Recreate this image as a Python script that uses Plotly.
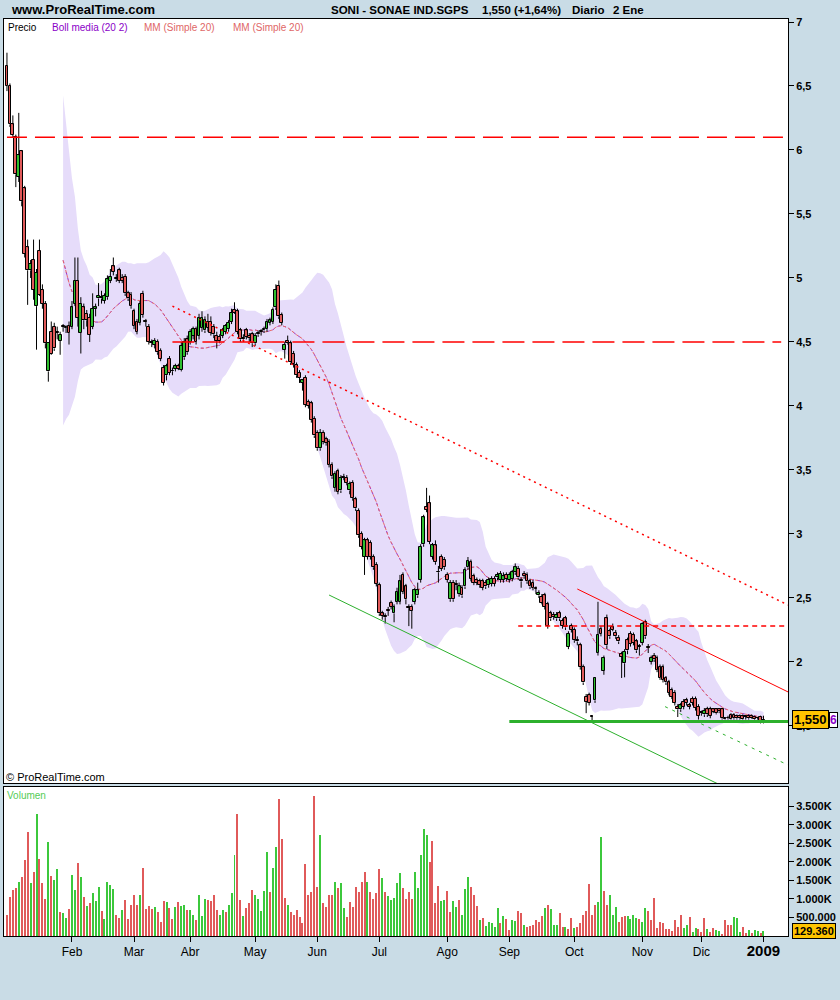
import numpy as np
import pandas as pd
import plotly.graph_objects as go

# ---------------- data ----------------
holidays = ["2008-01-01", "2008-03-21", "2008-03-24", "2008-05-01", "2008-12-25", "2008-12-26",
            "2009-01-01"]
trade_dates = [d for d in pd.bdate_range("2008-01-02", "2009-01-02")
               if d.strftime("%Y-%m-%d") not in holidays]
month_labels = ["Feb", "Mar", "Abr", "May", "Jun", "Jul", "Ago", "Sep", "Oct", "Nov", "Dic",
                "<span style='font-size:15px'><b>2009</b></span>"]

opens = [6.66, 6.50, 6.20, 6.10, 5.79, 5.99, 5.70, 5.24, 5.06, 5.14,
         4.78, 5.21, 4.91, 4.80, 4.27, 4.58, 4.62, 4.57, 4.51, 4.62,
         4.61, 4.625, 4.62, 4.80, 4.98, 4.57, 4.77, 4.72, 4.69, 4.62,
         4.76, 4.84, 4.85, 4.82, 4.85, 4.98, 5.09, 4.99, 5.06, 5.00,
         5.01, 4.88, 4.87, 4.74, 4.66, 4.65, 4.875, 4.66, 4.62, 4.49,
         4.48, 4.50, 4.43, 4.30, 4.24, 4.37, 4.27, 4.29, 4.31, 4.28,
         4.38, 4.52, 4.50, 4.55, 4.60, 4.55, 4.61, 4.59, 4.66, 4.66,
         4.62, 4.55, 4.54, 4.55, 4.58, 4.60, 4.66, 4.75, 4.74, 4.59,
         4.53, 4.59, 4.55, 4.56, 4.49, 4.56, 4.58, 4.59, 4.60, 4.65,
         4.66, 4.77, 4.94, 4.71, 4.44, 4.51, 4.49, 4.41, 4.32, 4.26,
         4.18, 4.22, 4.03, 4.02, 3.90, 3.79, 3.67, 3.79, 3.74, 3.72,
         3.54, 3.36, 3.49, 3.34, 3.44, 3.44, 3.34, 3.40, 3.27, 3.18,
         3.00, 2.82, 2.95, 2.93, 2.82, 2.76, 2.60, 2.38, 2.36, 2.40,
         2.46, 2.38, 2.47, 2.47, 2.68, 2.59, 2.42, 2.43, 2.47, 2.52,
         2.64, 2.92, 3.21, 3.24, 2.82, 2.91, 2.70, 2.82, 2.80, 2.68,
         2.49, 2.62, 2.60, 2.53, 2.58, 2.59, 2.74, 2.78, 2.67, 2.64,
         2.63, 2.63, 2.62, 2.60, 2.61, 2.65, 2.66, 2.64, 2.64, 2.68,
         2.64, 2.65, 2.70, 2.73, 2.64, 2.69, 2.68, 2.63, 2.62, 2.57,
         2.52, 2.51, 2.52, 2.45, 2.38, 2.37, 2.34, 2.38, 2.32, 2.34,
         2.12, 2.28, 2.25, 2.17, 2.13, 1.96, 1.73, 1.74, 1.57, 1.70,
         2.07, 2.26, 1.93, 2.34, 2.24, 2.27, 2.23, 2.19, 2.06, 1.99,
         2.17, 2.22, 2.21, 2.16, 2.12, 2.15, 2.31, 2.11, 2.00, 2.05,
         2.03, 1.96, 1.96, 1.875, 1.84, 1.78, 1.76, 1.65, 1.63, 1.69,
         1.70, 1.66, 1.71, 1.71, 1.65, 1.60, 1.59, 1.63, 1.63, 1.63,
         1.63, 1.63, 1.63, 1.555, 1.56, 1.585, 1.585, 1.58, 1.58, 1.575,
         1.57, 1.58, 1.58, 1.57, 1.56, 1.57, 1.53]
highs = [6.76, 6.52, 6.27, 6.12, 6.29, 6.00, 5.72, 5.30, 5.14, 5.30,
         5.07, 5.30, 4.95, 4.82, 4.49, 4.66, 4.65, 4.62, 4.58, 4.64,
         4.63, 4.66, 4.82, 5.16, 5.16, 4.85, 4.80, 4.75, 4.72, 4.88,
         4.80, 4.96, 4.90, 4.88, 5.02, 5.07, 5.16, 5.03, 5.08, 5.03,
         5.03, 4.90, 4.89, 4.76, 4.68, 4.82, 4.90, 4.68, 4.64, 4.52,
         4.53, 4.52, 4.45, 4.32, 4.33, 4.39, 4.30, 4.33, 4.33, 4.50,
         4.53, 4.55, 4.60, 4.62, 4.62, 4.72, 4.74, 4.70, 4.72, 4.70,
         4.64, 4.58, 4.56, 4.61, 4.64, 4.67, 4.76, 4.81, 4.76, 4.61,
         4.56, 4.61, 4.57, 4.58, 4.57, 4.59, 4.60, 4.62, 4.68, 4.69,
         4.77, 4.95, 4.98, 4.73, 4.50, 4.55, 4.51, 4.43, 4.34, 4.28,
         4.21, 4.24, 4.05, 4.04, 3.92, 3.81, 3.82, 3.81, 3.76, 3.74,
         3.56, 3.49, 3.51, 3.46, 3.47, 3.46, 3.41, 3.42, 3.29, 3.20,
         3.02, 2.97, 2.97, 2.95, 2.84, 2.78, 2.62, 2.40, 2.38, 2.43,
         2.48, 2.45, 2.58, 2.68, 2.70, 2.61, 2.45, 2.45, 2.58, 2.62,
         2.92, 3.15, 3.36, 3.30, 2.93, 2.95, 2.75, 2.84, 2.82, 2.70,
         2.64, 2.64, 2.64, 2.62, 2.60, 2.74, 2.82, 2.80, 2.69, 2.66,
         2.65, 2.65, 2.64, 2.66, 2.67, 2.67, 2.70, 2.71, 2.70, 2.70,
         2.70, 2.72, 2.77, 2.75, 2.66, 2.71, 2.70, 2.65, 2.64, 2.59,
         2.56, 2.53, 2.54, 2.47, 2.40, 2.39, 2.39, 2.40, 2.34, 2.36,
         2.24, 2.30, 2.27, 2.20, 2.15, 1.98, 1.75, 1.76, 1.58, 1.88,
         2.47, 2.28, 2.05, 2.37, 2.26, 2.30, 2.25, 2.21, 2.08, 2.10,
         2.19, 2.24, 2.23, 2.18, 2.14, 2.31, 2.33, 2.14, 2.05, 2.07,
         2.05, 1.98, 1.98, 1.89, 1.86, 1.80, 1.78, 1.67, 1.68, 1.71,
         1.72, 1.68, 1.73, 1.73, 1.67, 1.62, 1.64, 1.65, 1.65, 1.64,
         1.64, 1.64, 1.64, 1.57, 1.58, 1.60, 1.60, 1.59, 1.59, 1.59,
         1.58, 1.59, 1.59, 1.58, 1.57, 1.58, 1.58]
lows = [6.46, 6.18, 6.10, 5.71, 5.75, 5.56, 5.16, 4.79, 5.00, 4.83,
        4.44, 4.86, 4.76, 4.45, 4.19, 4.40, 4.43, 4.52, 4.40, 4.58,
        4.57, 4.48, 4.60, 4.78, 4.62, 4.41, 4.60, 4.62, 4.50, 4.60,
        4.70, 4.78, 4.80, 4.80, 4.83, 4.96, 5.02, 4.97, 4.96, 4.96,
        4.86, 4.82, 4.76, 4.60, 4.56, 4.63, 4.69, 4.62, 4.48, 4.46,
        4.45, 4.40, 4.35, 4.16, 4.20, 4.24, 4.24, 4.27, 4.28, 4.27,
        4.36, 4.40, 4.48, 4.52, 4.48, 4.52, 4.58, 4.57, 4.58, 4.55,
        4.53, 4.45, 4.49, 4.53, 4.56, 4.58, 4.64, 4.72, 4.56, 4.50,
        4.50, 4.52, 4.50, 4.46, 4.47, 4.54, 4.55, 4.57, 4.58, 4.63,
        4.64, 4.75, 4.68, 4.63, 4.37, 4.48, 4.32, 4.30, 4.22, 4.18,
        4.12, 3.99, 3.98, 3.87, 3.75, 3.65, 3.65, 3.70, 3.69, 3.52,
        3.43, 3.33, 3.31, 3.32, 3.42, 3.38, 3.31, 3.26, 3.18, 2.97,
        2.88, 2.68, 2.80, 2.80, 2.72, 2.59, 2.36, 2.33, 2.30, 2.36,
        2.41, 2.31, 2.45, 2.45, 2.53, 2.45, 2.28, 2.26, 2.45, 2.50,
        2.62, 2.90, 3.17, 2.92, 2.80, 2.76, 2.62, 2.71, 2.72, 2.62,
        2.47, 2.47, 2.56, 2.51, 2.50, 2.57, 2.72, 2.63, 2.60, 2.60,
        2.58, 2.56, 2.57, 2.58, 2.59, 2.59, 2.64, 2.62, 2.62, 2.63,
        2.62, 2.63, 2.68, 2.64, 2.58, 2.65, 2.61, 2.57, 2.56, 2.53,
        2.50, 2.45, 2.41, 2.26, 2.32, 2.33, 2.32, 2.32, 2.26, 2.25,
        2.10, 2.23, 2.15, 2.13, 1.94, 1.82, 1.60, 1.66, 1.53, 1.68,
        2.05, 2.20, 1.90, 2.10, 2.18, 2.24, 2.18, 2.14, 1.875, 1.88,
        2.06, 2.12, 2.13, 2.07, 2.05, 2.13, 2.18, 2.07, 1.98, 2.00,
        1.92, 1.86, 1.84, 1.82, 1.74, 1.71, 1.66, 1.57, 1.61, 1.63,
        1.66, 1.63, 1.66, 1.62, 1.55, 1.58, 1.57, 1.57, 1.56, 1.60,
        1.59, 1.60, 1.55, 1.55, 1.55, 1.55, 1.55, 1.55, 1.55, 1.55,
        1.55, 1.55, 1.555, 1.55, 1.55, 1.52, 1.52]
closes = [6.50, 6.20, 6.12, 5.81, 5.96, 5.60, 5.19, 5.06, 5.11, 4.91,
          5.04, 4.87, 4.80, 4.49, 4.49, 4.41, 4.45, 4.57, 4.555, 4.62,
          4.62, 4.57, 4.77, 4.98, 4.69, 4.80, 4.67, 4.67, 4.555, 4.76,
          4.77, 4.86, 4.84, 4.86, 4.99, 5.01, 5.05, 4.99, 4.98, 4.98,
          4.88, 4.84, 4.78, 4.625, 4.58, 4.80, 4.71, 4.66, 4.50, 4.49,
          4.51, 4.42, 4.37, 4.18, 4.31, 4.26, 4.27, 4.31, 4.29, 4.47,
          4.50, 4.42, 4.58, 4.60, 4.50, 4.69, 4.69, 4.67, 4.61, 4.57,
          4.56, 4.51, 4.51, 4.59, 4.625, 4.65, 4.73, 4.73, 4.58, 4.52,
          4.52, 4.54, 4.53, 4.49, 4.55, 4.57, 4.58, 4.60, 4.66, 4.67,
          4.75, 4.91, 4.70, 4.65, 4.48, 4.49, 4.34, 4.33, 4.24, 4.22,
          4.20, 4.01, 4.00, 3.89, 3.77, 3.67, 3.79, 3.72, 3.71, 3.54,
          3.45, 3.47, 3.33, 3.44, 3.44, 3.40, 3.39, 3.28, 3.20, 2.99,
          2.90, 2.95, 2.82, 2.82, 2.74, 2.61, 2.38, 2.36, 2.35, 2.40,
          2.43, 2.43, 2.55, 2.63, 2.55, 2.49, 2.42, 2.40, 2.56, 2.56,
          2.90, 3.13, 3.19, 2.94, 2.91, 2.78, 2.70, 2.73, 2.74, 2.64,
          2.62, 2.49, 2.60, 2.59, 2.52, 2.72, 2.79, 2.65, 2.62, 2.62,
          2.60, 2.58, 2.59, 2.64, 2.65, 2.61, 2.68, 2.69, 2.67, 2.65,
          2.68, 2.70, 2.74, 2.66, 2.63, 2.67, 2.63, 2.59, 2.58, 2.57,
          2.54, 2.46, 2.43, 2.28, 2.34, 2.35, 2.37, 2.34, 2.28, 2.27,
          2.22, 2.25, 2.17, 2.16, 1.96, 1.84, 1.69, 1.68, 1.57, 1.875,
          2.21, 2.22, 2.03, 2.13, 2.20, 2.25, 2.20, 2.16, 2.04, 2.08,
          2.09, 2.14, 2.15, 2.09, 2.12, 2.30, 2.20, 2.11, 2.03, 2.02,
          1.94, 1.875, 1.86, 1.84, 1.76, 1.73, 1.68, 1.63, 1.66, 1.65,
          1.68, 1.65, 1.68, 1.64, 1.58, 1.60, 1.62, 1.59, 1.58, 1.61,
          1.60, 1.615, 1.56, 1.555, 1.56, 1.555, 1.56, 1.56, 1.56, 1.555,
          1.57, 1.56, 1.56, 1.555, 1.56, 1.525, 1.55]

# volume in millions of shares
volume_m = [0.58, 1.05, 1.23, 1.29, 1.45, 1.58, 2.04, 2.80, 1.42, 1.72,
            3.28, 2.07, 1.42, 0.99, 2.53, 1.61, 1.50, 1.80, 0.64, 0.61,
            0.48, 0.72, 1.64, 1.23, 1.96, 1.58, 1.04, 0.80, 0.88, 1.15,
            0.94, 1.31, 0.67, 0.45, 1.45, 1.37, 1.26, 0.58, 0.48, 0.69,
            0.96, 0.45, 0.83, 1.10, 0.83, 1.10, 1.83, 0.72, 0.80, 0.72,
            0.77, 0.64, 0.37, 0.94, 0.91, 0.75, 0.45, 0.77, 0.91, 0.80,
            0.85, 0.69, 0.69, 0.58, 0.42, 1.12, 0.53, 0.99, 0.96, 0.94,
            1.12, 0.69, 0.56, 0.69, 0.64, 0.85, 1.15, 2.18, 3.28, 0.96,
            0.53, 0.75, 0.88, 1.23, 1.12, 0.99, 0.67, 1.21, 2.28, 1.18,
            1.83, 2.39, 3.69, 2.61, 1.02, 0.83, 0.64, 0.58, 0.69, 0.50,
            0.34, 1.93, 1.10, 1.18, 3.79, 1.31, 2.72, 0.88, 0.77, 1.10,
            1.12, 1.47, 1.29, 1.42, 0.75, 0.50, 0.91, 0.77, 1.31, 1.18,
            1.45, 1.72, 1.45, 1.18, 0.99, 1.15, 1.80, 1.56, 1.18, 1.07,
            0.96, 1.02, 1.42, 1.69, 1.29, 0.99, 1.18, 0.99, 1.74, 1.29,
            2.18, 2.90, 2.72, 1.99, 2.55, 0.88, 1.34, 0.94, 0.96, 1.21,
            0.64, 0.94, 0.77, 0.96, 0.58, 1.26, 1.58, 1.31, 1.12, 0.80,
            0.42, 0.48, 0.26, 0.37, 0.34, 0.23, 0.75, 0.34, 0.53, 0.45,
            0.15, 0.42, 0.40, 0.67, 0.61, 0.29, 0.23, 0.26, 0.29, 0.42,
            0.37, 0.53, 0.75, 0.83, 0.72, 0.31, 0.31, 0.61, 0.23, 0.23,
            0.18, 0.48, 0.21, 0.23, 0.34, 0.58, 0.67, 1.39, 0.56, 0.83,
            0.91, 2.66, 1.21, 0.85, 1.12, 0.58, 0.77, 0.37, 0.50, 0.53,
            0.53, 0.45, 0.56, 0.48, 0.45, 0.37, 0.75, 0.67, 0.42, 1.02,
            0.21, 0.37, 0.34, 0.18, 0.18, 0.13, 0.42, 0.23, 0.56, 0.21,
            0.31, 0.50, 0.10, 0.21, 0.18, 0.10, 0.48, 0.18, 0.10, 0.21,
            0.15, 0.13, 0.05, 0.42, 0.31, 0.31, 0.50, 0.48, 0.10, 0.23,
            0.07, 0.15, 0.07, 0.15, 0.13, 0.07, 0.12936]
volume_dir = ("rrrrgrrrgr" "grrrgrggrg" "grggrgrgrg" "ggrggggrrg" "rrrrrgrrrr"
              "grrrgrrgrg" "grggrgggrr" "rrggrgggrr" "grrrgggggr" "ggrrrgrrrr"
              "rrrrrrgrrr" "rgrggrrrrr" "rrgrrrrgrg" "ggggrrrrgg"
              "gggrrrrggr" "rggrgggrrr" "grgggggrgr" "rggrrgrrrr" "rrgrgggrrg"
              "rrgrrrrrrr" "ggrrgggrrr" "ggggrggrrr" "rrrrrrrrrg" "grggrrrgrr"
              "ggrrrrgggr" "rgrggrg")

price_ticks = [1.5, 2, 2.5, 3, 3.5, 4, 4.5, 5, 5.5, 6, 6.5, 7]
price_tick_text = ["1,5", "2", "2,5", "3", "3,5", "4", "4,5", "5", "5,5", "6", "6,5", "7"]
vol_ticks = [0.5, 1.0, 1.5, 2.0, 2.5, 3.0, 3.5]
vol_tick_text = ["500.000", "1.000K", "1.500K", "2.000K", "2.500K", "3.000K", "3.500K"]

# drawn lines: (trading-day index, price) end points
line_61_x, line_61_y = [0, 264.3], [6.1, 6.1]
line_45_x, line_45_y = [56, 262], [4.5, 4.5]
red_dot_trend_x, red_dot_trend_y = [56, 264.3], [4.78, 2.445]
red_trend_x, red_trend_y = [193, 264.3], [2.57, 1.766]
line_228_x, line_228_y = [173, 264.3], [2.28, 2.28]
green_level_x, green_level_y = [170, 264.3], [1.535, 1.535]
green_trend_x, green_trend_y = [109, 250], [2.523, 0.942]
green_dot_trend_x, green_dot_trend_y = [222.7, 264.3], [1.651, 1.195]

# ---------------- derived ----------------
n = min(len(trade_dates), len(opens), len(highs), len(lows), len(closes))
idx = list(range(n))
s = pd.Series(closes[:n])
mid = s.rolling(20).mean()
sd = s.rolling(20).std(ddof=0)
upper = (mid + 2 * sd)[19:]
lower = (mid - 2 * sd)[19:]
band_x = idx[19:]
mid_v = mid[19:]

month_ticks = []
seen = set()
for i, d in enumerate(trade_dates):
    key = (d.year, d.month)
    if key not in seen:
        seen.add(key)
        if i > 0:
            month_ticks.append(i)

GREEN = "#3CC83C"
RED = "#E05A5A"
BODY_UP = "#2FBF2F"
BODY_DN = "#E05A5A"
vol_colors = [GREEN if c == "g" else RED for c in volume_dir]
BAND = "#E6DCFA"

body_base = [min(opens[i], closes[i]) for i in idx]
body_top = [max(opens[i], closes[i]) for i in idx]
body_h = [max(body_top[i] - body_base[i], 0.006) for i in idx]
body_col = [BODY_UP if closes[i] > opens[i] else BODY_DN for i in idx]
wick_x, wick_y = [], []
for i in idx:
    if highs[i] > body_top[i]:
        wick_x += [i, i, None]
        wick_y += [highs[i], body_top[i], None]
    if lows[i] < body_base[i]:
        wick_x += [i, i, None]
        wick_y += [body_base[i], lows[i], None]

fig = go.Figure()

# Bollinger band (base subplot, drawn underneath)
fig.add_trace(go.Scatter(x=band_x, y=upper, mode="lines", line=dict(width=0, color=BAND),
                         hoverinfo="skip", showlegend=False, xaxis="x", yaxis="y"))
fig.add_trace(go.Scatter(x=band_x, y=lower, mode="lines", line=dict(width=0, color=BAND),
                         fill="tonexty", fillcolor=BAND,
                         hoverinfo="skip", showlegend=False, xaxis="x", yaxis="y"))
# Boll media + MM
fig.add_trace(go.Scatter(x=band_x, y=mid_v, mode="lines", line=dict(width=1, color="#9933CC", dash="dot"),
                         hoverinfo="skip", showlegend=False, xaxis="x", yaxis="y"))
fig.add_trace(go.Scatter(x=band_x, y=mid_v, mode="lines",
                         line=dict(width=1, color="#E86A6A", dash="3px,2px"),
                         hoverinfo="skip", showlegend=False, xaxis="x", yaxis="y"))

# candles (overlay subplot, drawn on top of band): bodies as bars, wicks as lines
fig.add_trace(go.Bar(x=idx, y=body_h, base=body_base, width=0.95,
                     marker=dict(color=body_col, line=dict(color="black", width=1)),
                     hoverinfo="skip", showlegend=False, xaxis="x", yaxis="y3"))
fig.add_trace(go.Scatter(x=wick_x, y=wick_y, mode="lines", line=dict(color="black", width=1),
                         hoverinfo="skip", showlegend=False, xaxis="x", yaxis="y3"))

def add_line(x, y, color, width, dash="solid"):
    fig.add_trace(go.Scatter(x=x, y=y, mode="lines", line=dict(color=color, width=width, dash=dash),
                             hoverinfo="skip", showlegend=False, xaxis="x", yaxis="y3"))

add_line(line_61_x, line_61_y, "#FF0000", 1.5, "20px,8px")
add_line(line_45_x, line_45_y, "#FF0000", 1.5, "22px,8px")
add_line(red_dot_trend_x, red_dot_trend_y, "#FF0000", 1.5, "2px,4px")
add_line(red_trend_x, red_trend_y, "#FF0000", 1)
add_line(line_228_x, line_228_y, "#FF0000", 1.5, "5px,4px")
add_line(green_trend_x, green_trend_y, "#2DB02D", 1)
add_line(green_dot_trend_x, green_dot_trend_y, "#2DB02D", 1, "3px,5px")
add_line(green_level_x, green_level_y, "#2DB02D", 3)

# volume
fig.add_trace(go.Bar(x=list(range(len(volume_m))), y=volume_m,
                     marker=dict(color=vol_colors, line=dict(width=0)),
                     width=0.34, showlegend=False, hoverinfo="skip", xaxis="x2", yaxis="y2"))

XR = [-1.0, 264.3]
PR = [1.0547, 7.0234]
FONT = "Liberation Sans, Arial, sans-serif"
axis_common = dict(showgrid=False, zeroline=False, showline=True, mirror=True,
                   linecolor="black", linewidth=1)

fig.update_layout(
    width=840, height=1000,
    margin=dict(l=4, r=52, t=19, b=64),
    paper_bgcolor="#C9DCE6", plot_bgcolor="white",
    showlegend=False, bargap=0, barmode="overlay",
    font=dict(family=FONT, color="black"),
    xaxis=dict(domain=[0, 1], range=XR, anchor="y", showticklabels=False, ticks="",
               **axis_common),
    yaxis=dict(domain=[0.1669, 1], range=PR, side="right", anchor="x",
               tickvals=price_ticks, ticktext=price_tick_text, ticks="outside", ticklen=5,
               tickcolor="black", tickfont=dict(size=11, family=FONT, weight="bold"),
               **axis_common),
    yaxis3=dict(overlaying="y", range=PR, anchor="x", side="right", visible=False,
                showgrid=False, zeroline=False),
    xaxis2=dict(domain=[0, 1], range=XR, anchor="y2", tickvals=month_ticks, ticktext=month_labels,
                ticks="outside", ticklen=5, tickcolor="black",
                tickfont=dict(size=12, family=FONT), **axis_common),
    yaxis2=dict(domain=[0, 0.1625], range=[0, 4.02], side="right", anchor="x2",
                tickvals=vol_ticks, ticktext=vol_tick_text, ticks="outside", ticklen=5,
                tickcolor="black", tickfont=dict(size=11, family=FONT, weight="bold"),
                **axis_common),
)

def px_x(px):
    return (px - 4) / 784.0

def px_y(py):
    return (936 - py) / 917.0

ann = []
def text(x, y, t, size=12, color="black", bold=False, **kw):
    ann.append(dict(xref="paper", yref="paper", x=px_x(x), y=px_y(y), text=("<b>%s</b>" % t) if bold else t,
                    showarrow=False, xanchor="left", yanchor="middle",
                    font=dict(size=size, color=color, family=FONT), **kw))

text(9, 10, "www.ProRealTime.com", 13, bold=True)
text(329, 10, "SONI - SONAE IND.SGPS", 11.5, bold=True)
text(480, 10, "1,550 (+1,64%)", 11.5, bold=True)
text(570, 10, "Diario", 11.5, bold=True)
text(611, 10, "2 Ene", 11.5, bold=True)

text(6, 27, "Precio", 10)
text(50, 27, "Boll media (20 2)", 10, "#8A00C8")
text(142, 27, "MM (Simple 20)", 10, "#E06666")
text(231, 27, "MM (Simple 20)", 10, "#E06666")
text(4, 777, "© ProRealTime.com", 11)
text(5, 795, "Volumen", 10, "#55CC55")

fig.update_layout(annotations=ann)

# last value labels
fig.add_annotation(xref="paper", yref="y", x=1, y=closes[-1], xanchor="left", yanchor="middle",
                   xshift=41, text="<b>6</b>", showarrow=False, bgcolor="white",
                   bordercolor="black", borderwidth=1, borderpad=0,
                   font=dict(size=12, color="#8A00C8", family=FONT))
fig.add_annotation(xref="paper", yref="y", x=1, y=closes[-1], xanchor="left", yanchor="middle",
                   xshift=4, text="<b>1,550</b>", showarrow=False, bgcolor="#FFC400",
                   bordercolor="black", borderwidth=1, borderpad=1,
                   font=dict(size=13, color="black", family=FONT))
fig.add_annotation(xref="paper", yref="y2", x=1, y=volume_m[-1], xanchor="left", yanchor="middle",
                   xshift=4, text="<b>129.360</b>", showarrow=False, bgcolor="#FFC400",
                   bordercolor="black", borderwidth=1, borderpad=1,
                   font=dict(size=11, color="black", family="Liberation Sans Narrow, Liberation Sans, Arial"))

fig.write_html("out.html", config={"displayModeBar": False},
               post_script="document.body.style.margin='0px';")
